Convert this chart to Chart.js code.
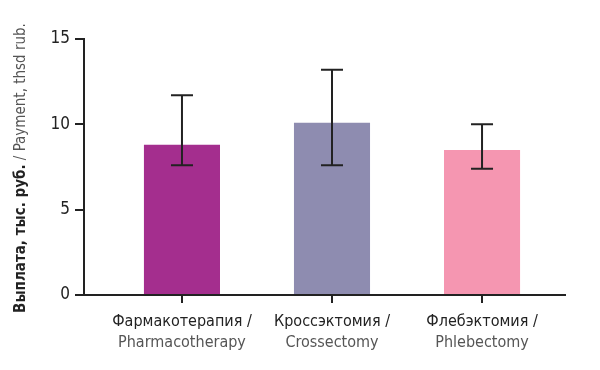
<!DOCTYPE html>
<html>
<head>
<meta charset="utf-8">
<script src="https://cdn.jsdelivr.net/npm/chart.js@4"></script>
<style>
  html, body { margin: 0; padding: 0; background: #fff; }
  #wrap { width: 600px; height: 370px; }
</style>
</head>
<body>
<div id="wrap"><canvas id="myChart"></canvas></div>
<script>
const categoriesRu = ['Фармакотерапия /', 'Кроссэктомия /', 'Флебэктомия /']
const categoriesEn = ['Pharmacotherapy', 'Crossectomy', 'Phlebectomy']
const payment = [8.8, 10.1, 8.5]
const errLow = [7.6, 7.6, 7.4]
const errHigh = [11.7, 13.2, 10.0]
const yTicks = [0, 5, 10, 15]
const barColors = ['#a42e8e', '#8e8cb0', '#f596b1']

const titleBold = 'Выплата, тыс. руб.'
const titleRest = ' / Payment, thsd rub.'

const FONT = '"Liberation Sans Narrow", "DejaVu Sans Condensed", "Liberation Sans", sans-serif'
const ink = '#222'
const grey = '#555'

// error bars + labels drawn on top
const extras = {
  id: 'extras',
  afterDatasetsDraw(chart) {
    const ctx = chart.ctx
    const x = chart.scales.x
    const y = chart.scales.y
    ctx.save()
    ctx.strokeStyle = ink
    ctx.lineWidth = 2
    payment.forEach((v, i) => {
      const px = x.getPixelForValue(i + 1)
      const hi = y.getPixelForValue(errHigh[i])
      const lo = y.getPixelForValue(errLow[i])
      ctx.beginPath()
      ctx.moveTo(px, hi); ctx.lineTo(px, lo)
      ctx.moveTo(px - 11, hi); ctx.lineTo(px + 11, hi)
      ctx.moveTo(px - 11, lo); ctx.lineTo(px + 11, lo)
      ctx.stroke()
    })
    ctx.restore()
  },
  afterDraw(chart) {
    const ctx = chart.ctx
    const x = chart.scales.x
    ctx.save()
    ctx.textAlign = 'center'
    ctx.textBaseline = 'middle'
    categoriesRu.forEach((c, i) => {
      const px = x.getPixelForValue(i + 1)
      ctx.font = '16px ' + FONT
      ctx.fillStyle = ink
      ctx.fillText(c, px, 322)
      ctx.fillStyle = grey
      ctx.fillText(categoriesEn[i], px, 343)
    })

    // y axis title, two styles
    ctx.translate(21, 168)
    ctx.rotate(-Math.PI / 2)
    ctx.textAlign = 'left'
    ctx.font = 'bold 15px ' + FONT
    const w1 = ctx.measureText(titleBold).width
    ctx.font = '15px ' + FONT
    const w2 = ctx.measureText(titleRest).width
    let start = -(w1 + w2) / 2
    ctx.font = 'bold 15px ' + FONT
    ctx.fillStyle = ink
    ctx.fillText(titleBold, start, 0)
    ctx.font = '15px ' + FONT
    ctx.fillStyle = grey
    ctx.fillText(titleRest, start + w1, 0)
    ctx.restore()
  }
}

const chart = document.getElementById('myChart')

new Chart(chart, {
  type: 'bar',
  data: {
    datasets: [{
      data: payment.map((v, i) => ({ x: i + 1, y: v })),
      backgroundColor: barColors,
      borderWidth: 0,
      categoryPercentage: 1,
      barPercentage: 0.507
    }]
  },
  options: {
    responsive: true,
    maintainAspectRatio: false,
    animation: false,
    layout: { padding: { top: 39, right: 35, left: 0, bottom: 0 } },
    plugins: { legend: { display: false }, tooltip: { enabled: false } },
    scales: {
      x: {
        type: 'linear',
        offset: false,
        min: 0.347,
        max: 3.553,
        afterBuildTicks: (scale) => { scale.ticks = categoriesRu.map((c, i) => ({ value: i + 1 })) },
        afterFit: (scale) => { scale.height = 75 },
        ticks: { display: false },
        grid: { offset: false, drawOnChartArea: false, drawTicks: true, tickLength: 8, color: ink, lineWidth: 2 },
        border: { display: true, color: ink, width: 2 }
      },
      y: {
        min: 0,
        max: 15,
        afterBuildTicks: (scale) => { scale.ticks = yTicks.map(v => ({ value: v })) },
        afterFit: (scale) => { scale.width = 84 },
        ticks: { color: ink, padding: 5, font: { family: FONT, size: 17 } },
        grid: { drawOnChartArea: false, drawTicks: true, tickLength: 9, color: ink, lineWidth: 2 },
        border: { display: true, color: ink, width: 2 }
      }
    }
  },
  plugins: [extras]
})
</script>
</body>
</html>
